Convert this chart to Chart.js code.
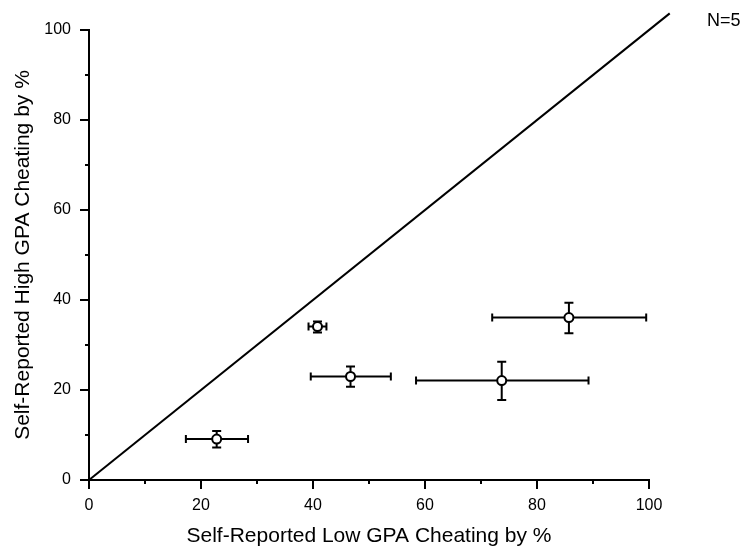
<!DOCTYPE html>
<html>
<head>
<meta charset="utf-8">
<script src="https://cdn.jsdelivr.net/npm/chart.js@4"></script>
<style>
  html, body { margin: 0; padding: 0; background: #fff; }
  #wrap { width: 749px; height: 550px; position: relative; }
</style>
</head>
<body>
<div id="wrap"><canvas id="myChart" width="749" height="550"></canvas></div>
<script>
// data
const lowGpa = [22.8, 40.8, 46.7, 73.7, 85.7];
const highGpa = [9.1, 34.1, 23.0, 22.1, 36.1];
const lowGpaMin = [17.3, 39.2, 39.6, 58.4, 72.0];
const lowGpaMax = [28.4, 42.4, 53.9, 89.2, 99.5];
const highGpaMin = [7.2, 32.8, 20.7, 17.8, 32.6];
const highGpaMax = [10.9, 35.2, 25.2, 26.3, 39.4];
const diagonalEnds = [0, 103.7];
const axisTicks = [0, 10, 20, 30, 40, 50, 60, 70, 80, 90, 100];
const noteText = 'N=5';

const points = lowGpa.map((v, i) => ({ x: v, y: highGpa[i] }));
const diagonal = diagonalEnds.map(v => ({ x: v, y: v }));

const fontName = '"Liberation Sans", Arial, Helvetica, sans-serif';

// error bars (under the markers) + axis ticks + N label
const extras = {
    id: 'extras',
    beforeDatasetsDraw(chart) {
        const c = chart.ctx;
        const xs = chart.scales.x;
        const ys = chart.scales.y;
        c.save();
        c.strokeStyle = '#000';
        c.lineWidth = 2;
        for (let i = 0; i < lowGpa.length; i++) {
            const px = xs.getPixelForValue(lowGpa[i]);
            const py = ys.getPixelForValue(highGpa[i]);
            const x1 = xs.getPixelForValue(lowGpaMin[i]);
            const x2 = xs.getPixelForValue(lowGpaMax[i]);
            const y1 = ys.getPixelForValue(highGpaMin[i]);
            const y2 = ys.getPixelForValue(highGpaMax[i]);
            c.beginPath();
            c.moveTo(x1, py); c.lineTo(x2, py);
            c.moveTo(x1, py - 4); c.lineTo(x1, py + 4);
            c.moveTo(x2, py - 4); c.lineTo(x2, py + 4);
            c.moveTo(px, y1); c.lineTo(px, y2);
            c.moveTo(px - 4.5, y1); c.lineTo(px + 4.5, y1);
            c.moveTo(px - 4.5, y2); c.lineTo(px + 4.5, y2);
            c.stroke();
        }
        c.restore();
    },
    afterDraw(chart) {
        const c = chart.ctx;
        const xs = chart.scales.x;
        const ys = chart.scales.y;
        const area = chart.chartArea;
        c.save();
        c.strokeStyle = '#000';
        c.lineWidth = 2;
        axisTicks.forEach(v => {
            const len = v % 20 === 0 ? 9 : 4;
            const px = xs.getPixelForValue(v);
            const py = ys.getPixelForValue(v);
            c.beginPath();
            c.moveTo(px, area.bottom); c.lineTo(px, area.bottom + len);
            c.moveTo(area.left, py); c.lineTo(area.left - len, py);
            c.stroke();
        });
        c.fillStyle = '#000';
        c.font = '18px ' + fontName;
        c.textBaseline = 'alphabetic';
        c.fillText(noteText, 707, 26);
        c.restore();
    }
};

const ctx = document.getElementById('myChart').getContext('2d');
const myChart = new Chart(ctx, {
    type: 'scatter',
    data: {
        datasets: [{
            label: 'diagonal',
            type: 'line',
            data: diagonal,
            borderColor: '#000',
            borderWidth: 2,
            pointRadius: 0,
            clip: false,
            order: 2
        }, {
            label: 'cheating',
            data: points,
            pointRadius: 4.5,
            pointBackgroundColor: '#fff',
            pointBorderColor: '#000',
            pointBorderWidth: 2,
            order: 1
        }]
    },
    options: {
        responsive: false,
        animation: false,
        layout: {
            padding: { left: 0, top: 30, right: 100, bottom: 0 }
        },
        plugins: {
            legend: { display: false },
            tooltip: { enabled: false }
        },
        scales: {
            x: {
                type: 'linear',
                min: 0,
                max: 100,
                afterFit(scale) { scale.height = 70; },
                border: { display: true, color: '#000', width: 2 },
                grid: { drawOnChartArea: false, drawTicks: false },
                ticks: {
                    stepSize: 10,
                    padding: 16,
                    color: '#000',
                    font: { family: fontName, size: 16 },
                    callback: v => (v % 20 === 0 ? v : '')
                },
                title: {
                    display: true,
                    text: 'Self-Reported Low GPA Cheating by %',
                    color: '#000',
                    font: { family: fontName, size: 21 },
                    padding: { top: 0, bottom: 1 }
                }
            },
            y: {
                type: 'linear',
                min: 0,
                max: 100,
                afterFit(scale) { scale.width = 89; },
                border: { display: true, color: '#000', width: 2 },
                grid: { drawOnChartArea: false, drawTicks: false },
                ticks: {
                    stepSize: 10,
                    padding: 18,
                    color: '#000',
                    font: { family: fontName, size: 16 },
                    callback: v => (v % 20 === 0 ? v : '')
                },
                title: {
                    display: true,
                    text: 'Self-Reported High GPA Cheating by %',
                    color: '#000',
                    font: { family: fontName, size: 21 },
                    padding: { top: 11, bottom: 0 }
                }
            }
        }
    },
    plugins: [extras]
});
</script>
</body>
</html>
